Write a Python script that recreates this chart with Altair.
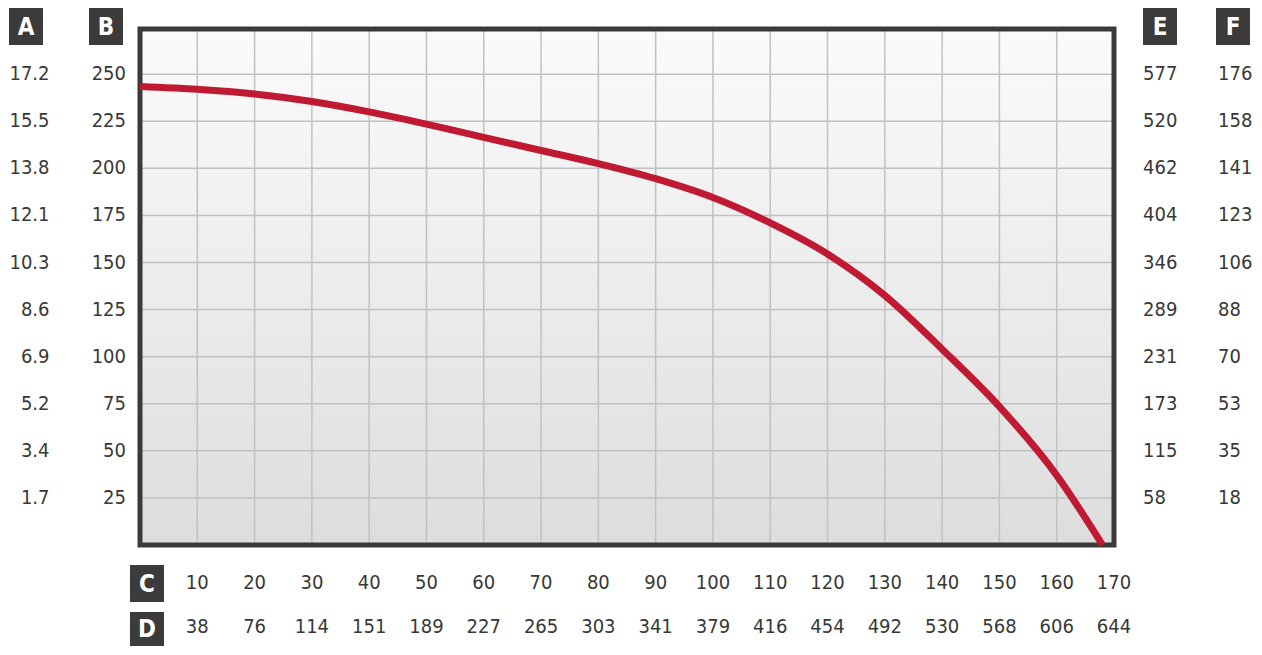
import altair as alt
import pandas as pd

# ---------------- data ----------------
flow_c = [0, 10, 20, 30, 40, 50, 60, 70, 80, 90, 100, 110, 120, 130, 140, 150, 160, 168]
head_b = [243.5, 242, 239.5, 235.5, 230, 223.5, 216.5, 209.5, 202.5, 194.5, 184.5,
          171, 154.5, 132.5, 104, 73.5, 37, 0]

grid_x = [10, 20, 30, 40, 50, 60, 70, 80, 90, 100, 110, 120, 130, 140, 150, 160]
grid_y = [25, 50, 75, 100, 125, 150, 175, 200, 225, 250]

c_ticks = [10, 20, 30, 40, 50, 60, 70, 80, 90, 100, 110, 120, 130, 140, 150, 160, 170]
c_labels = [str(v) for v in c_ticks]
d_labels = ["38", "76", "114", "151", "189", "227", "265", "303", "341", "379",
            "416", "454", "492", "530", "568", "606", "644"]

b_ticks = [25, 50, 75, 100, 125, 150, 175, 200, 225, 250]
b_labels = [str(v) for v in b_ticks]
a_labels = ["1.7", "3.4", "5.2", "6.9", "8.6", "10.3", "12.1", "13.8", "15.5", "17.2"]
e_labels = ["58", "115", "173", "231", "289", "346", "404", "462", "520", "577"]
f_labels = ["18", "35", "53", "70", "88", "106", "123", "141", "158", "176"]

# ---------------- layout / style ----------------
W, H = 974, 516
X_MAX, Y_MAX = 170, 274
FONT = "DejaVu Sans Condensed, Roboto, sans-serif"
TXT = "#383838"
FS = 20

xs = alt.Scale(domain=[0, X_MAX], nice=False, zero=True)
ys = alt.Scale(domain=[0, Y_MAX], nice=False, zero=True)

one = pd.DataFrame({"k": [0]})

bg = alt.Chart(one).mark_rect(
    fill=alt.Gradient(
        gradient="linear",
        stops=[alt.GradientStop(color="#fbfbfb", offset=0),
               alt.GradientStop(color="#dddddd", offset=1)],
        x1=0, x2=0, y1=0, y2=1,
    )
).encode(
    x=alt.XDatum(0, scale=xs, axis=None), x2=alt.X2Datum(X_MAX),
    y=alt.YDatum(0, scale=ys, axis=None), y2=alt.Y2Datum(Y_MAX),
)

vgrid = alt.Chart(pd.DataFrame({"g": grid_x})).mark_rule(
    color="#c1c1c1", strokeWidth=1.5
).encode(x=alt.X("g:Q", scale=xs, axis=None))

hgrid = alt.Chart(pd.DataFrame({"g": grid_y})).mark_rule(
    color="#c1c1c1", strokeWidth=1.5
).encode(y=alt.Y("g:Q", scale=ys, axis=None))

frame = alt.Chart(one).mark_rect(
    fill="transparent", stroke="#3a3a3a", strokeWidth=5
).encode(
    x=alt.XDatum(0, scale=xs, axis=None), x2=alt.X2Datum(X_MAX),
    y=alt.YDatum(0, scale=ys, axis=None), y2=alt.Y2Datum(Y_MAX),
)

curve = alt.Chart(pd.DataFrame({"c": flow_c, "b": head_b})).mark_line(
    color="#c01a33", strokeWidth=7, interpolate="monotone", strokeCap="butt"
).encode(
    x=alt.X("c:Q", scale=xs, axis=None),
    y=alt.Y("b:Q", scale=ys, axis=None),
)


def side_labels(labels, xpix, align):
    return alt.Chart(pd.DataFrame({"b": b_ticks, "t": labels})).mark_text(
        font=FONT, fontSize=FS, color=TXT, align=align, baseline="middle"
    ).encode(
        y=alt.Y("b:Q", scale=ys, axis=None), x=alt.value(xpix), text="t:N"
    )


def bottom_labels(labels, ypix):
    return alt.Chart(pd.DataFrame({"c": c_ticks, "t": labels})).mark_text(
        font=FONT, fontSize=FS, color=TXT, align="center", baseline="middle"
    ).encode(x=alt.X("c:Q", scale=xs, axis=None), y=alt.value(ypix), text="t:N")


a_txt = side_labels(a_labels, -90.5, "right")
b_txt = side_labels(b_labels, -14, "right")
e_txt = side_labels(e_labels, W + 29, "left")
f_txt = side_labels(f_labels, W + 104, "left")
c_txt = bottom_labels(c_labels, H + 38)
d_txt = bottom_labels(d_labels, H + 82)


def badge(letter, x0, y0, w=34, h=37):
    d = pd.DataFrame({"t": [letter]})
    r = alt.Chart(d).mark_rect(color="#3b3b3b").encode(
        x=alt.value(x0), x2=alt.value(x0 + w), y=alt.value(y0), y2=alt.value(y0 + h))
    t = alt.Chart(d).mark_text(
        font=FONT, fontSize=24, fontWeight="bold", color="white",
        align="center", baseline="middle"
    ).encode(x=alt.value(x0 + w / 2), y=alt.value(y0 + h / 2 + 1), text="t:N")
    return [r, t]


badges = (badge("A", -131, -21) + badge("B", -51, -21) + badge("E", W + 29, -21)
          + badge("F", W + 102, -21) + badge("C", -10, H + 20)
          + badge("D", -10, H + 67, h=34))

chart = alt.layer(
    bg, vgrid, hgrid, frame, curve, a_txt, b_txt, e_txt, f_txt, c_txt, d_txt, *badges
).properties(
    width=W, height=H,
    padding={"left": 132, "top": 21, "right": 140, "bottom": 102},
    autosize=alt.AutoSizeParams(type="none"),
).configure_view(strokeWidth=0).configure(background="white")

chart.save("out.html", embed_options={"renderer": "svg", "actions": False})
